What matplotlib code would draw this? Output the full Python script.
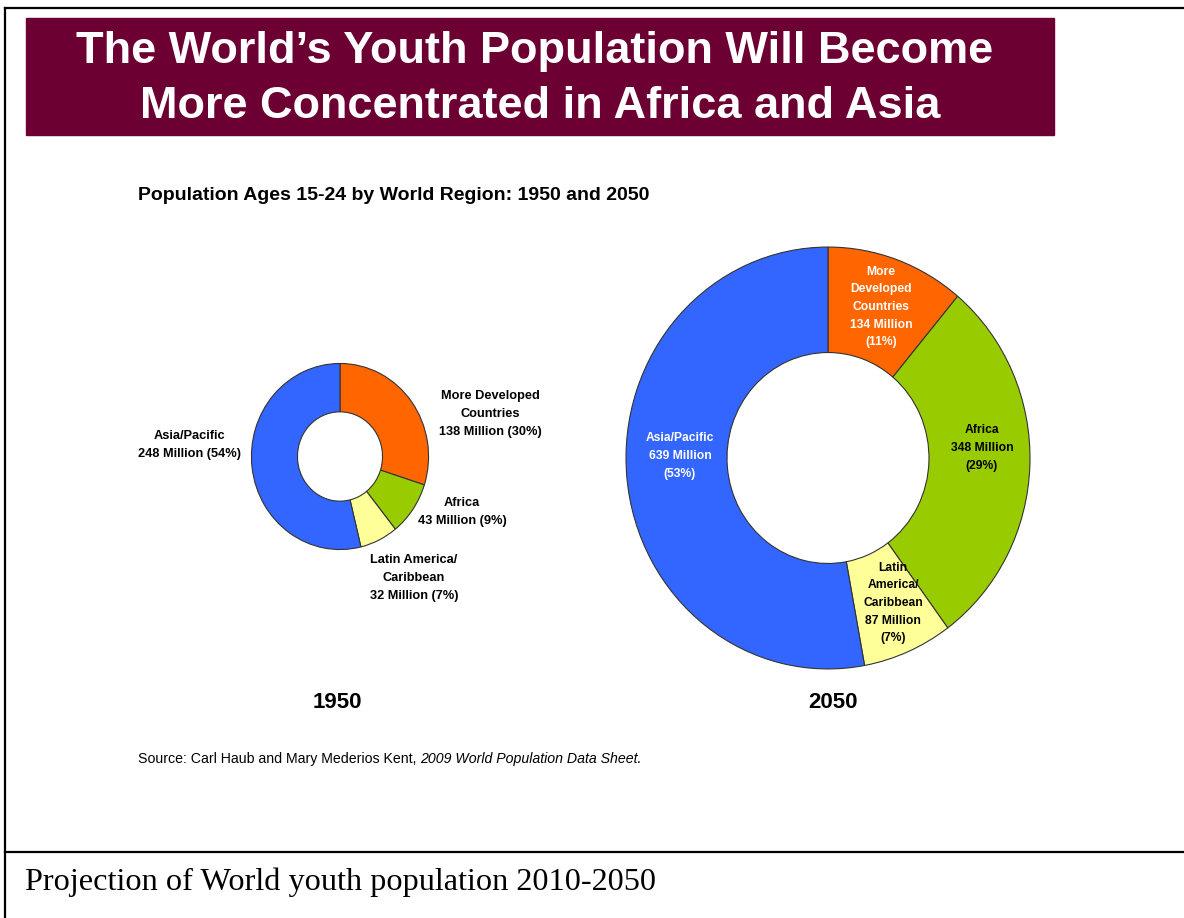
import matplotlib.pyplot as plt
from matplotlib.lines import Line2D
from matplotlib.patches import Rectangle

W, H = 1184, 918

regions = ["More Developed Countries", "Africa", "Latin America/Caribbean", "Asia/Pacific"]
pop_1950 = [138, 43, 32, 248]
pct_1950 = [30, 9, 7, 54]
pop_2050 = [134, 348, 87, 639]
pct_2050 = [11, 29, 7, 53]
colors = ["#FF6600", "#99CC00", "#FFFF99", "#3366FF"]

arial = ["Liberation Sans", "DejaVu Sans"]

fig = plt.figure(figsize=(W / 100, H / 100), dpi=100)


def fx(x):
    return x / W


def fy(y):
    return 1 - y / H


# frame lines
fig.add_artist(Line2D([fx(5), fx(5)], [fy(8), 0], color="black", lw=1.6))
fig.add_artist(Line2D([fx(5), 1], [fy(8), fy(8)], color="black", lw=1.6))
fig.add_artist(Line2D([fx(5), 1], [fy(852), fy(852)], color="black", lw=1.6))

# title banner
fig.add_artist(Rectangle((fx(26), fy(135)), (1054 - 26) / W, (135 - 18) / H,
                         transform=fig.transFigure, color="#6D0033"))
fig.text(fx(535), fy(52), "The World\u2019s Youth Population Will Become", color="white",
         fontsize=32.5, fontweight="bold", family=arial, ha="center", va="center")
fig.text(fx(540), fy(106), "More Concentrated in Africa and Asia", color="white",
         fontsize=32.5, fontweight="bold", family=arial, ha="center", va="center")

fig.text(fx(138), fy(195), "Population Ages 15-24 by World Region: 1950 and 2050",
         fontsize=14, fontweight="bold", family=arial, ha="left", va="center")


def donut(cx, cy, rx, ry, values, width):
    ax = fig.add_axes([fx(cx - rx), fy(cy + ry), 2 * rx / W, 2 * ry / H])
    ax.pie(values, colors=colors, startangle=90, counterclock=False, radius=1,
           wedgeprops=dict(width=width, edgecolor="#333333", linewidth=0.8))
    ax.set_xlim(-1.005, 1.005)
    ax.set_ylim(-1.005, 1.005)
    ax.set_aspect("auto")
    ax.axis("off")
    return ax


donut(340, 456.5, 89, 93.5, pop_1950, 0.52)
donut(828, 458, 203, 212, pop_2050, 0.50)

# 1950 labels (outside)
lab = dict(fontsize=9.2, fontweight="bold", family=arial, ha="center", va="center",
           linespacing=1.68)
fig.text(fx(490), fy(414), "More Developed\nCountries\n%d Million (%d%%)" % (pop_1950[0], pct_1950[0]), **lab)
fig.text(fx(462), fy(512), "Africa\n%d Million (%d%%)" % (pop_1950[1], pct_1950[1]), **lab)
fig.text(fx(414), fy(578), "Latin America/\nCaribbean\n%d Million (%d%%)" % (pop_1950[2], pct_1950[2]), **lab)
fig.text(fx(190), fy(445), "Asia/Pacific\n%d Million (%d%%)" % (pop_1950[3], pct_1950[3]), **lab)

# 2050 labels (inside)
lab2 = dict(fontsize=8.7, fontweight="bold", family=arial, ha="center", va="center",
            linespacing=1.62)
fig.text(fx(881), fy(307), "More\nDeveloped\nCountries\n%d Million\n(%d%%)" % (pop_2050[0], pct_2050[0]),
         color="white", **lab2)
fig.text(fx(982), fy(448), "Africa\n%d Million\n(%d%%)" % (pop_2050[1], pct_2050[1]), **lab2)
fig.text(fx(893), fy(603), "Latin\nAmerica/\nCaribbean\n%d Million\n(%d%%)" % (pop_2050[2], pct_2050[2]), **lab2)
fig.text(fx(680), fy(456), "Asia/Pacific\n%d Million\n(%d%%)" % (pop_2050[3], pct_2050[3]),
         color="white", **lab2)

fig.text(fx(337), fy(703), "1950", fontsize=16, fontweight="bold", family=arial, ha="center", va="center")
fig.text(fx(833), fy(703), "2050", fontsize=16, fontweight="bold", family=arial, ha="center", va="center")

# source line: regular part then italic part
t1 = fig.text(fx(138), fy(759), "Source: Carl Haub and Mary Mederios Kent, ", fontsize=10.2,
              family=arial, ha="left", va="center")
fig.canvas.draw()
bb = t1.get_window_extent()
fig.text(bb.x1 / W, fy(759), "2009 World Population Data Sheet.", fontsize=10.2, style="italic",
         family=arial, ha="left", va="center")

fig.text(fx(25), fy(882), "Projection of World youth population 2010-2050", fontsize=23.2,
         family=["Liberation Serif", "DejaVu Serif"], ha="left", va="center")

plt.savefig("out.png", dpi=100)
